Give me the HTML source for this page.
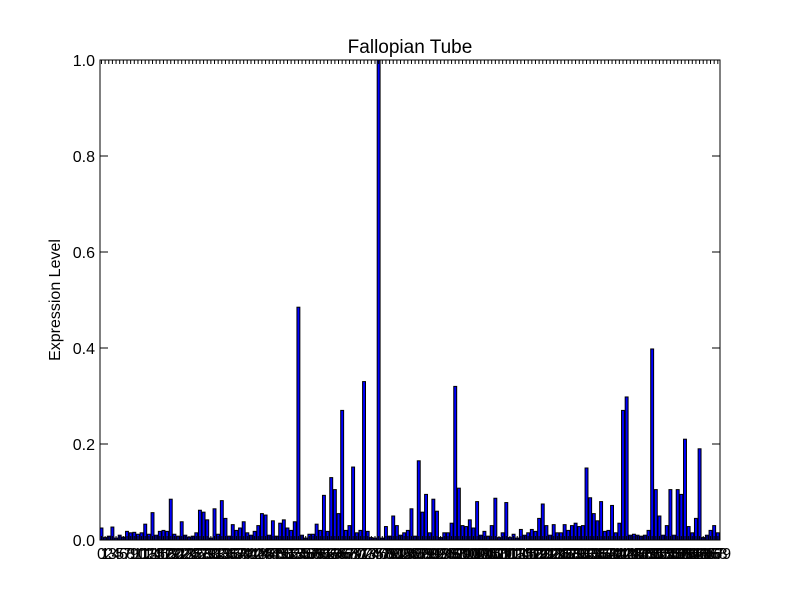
<!DOCTYPE html>
<html><head><meta charset="utf-8"><style>
body{margin:0;background:#fff;}
svg{display:block;font-family:"Liberation Sans",sans-serif;}
</style></head><body>
<svg id="chart" width="800" height="600">
<rect width="800" height="600" fill="#fff"/>
<text x="410" y="53" font-size="19" text-anchor="middle">Fallopian Tube</text>
<text transform="translate(60,300) rotate(-90)" font-size="16" text-anchor="middle">Expression Level</text>
<g id="bars"></g><g id="ticks"></g>
<rect x="100" y="60" width="620" height="480" fill="none" stroke="#000" stroke-width="1"/>
</svg>
<script>
const values = [
0.025,0.005,0.008,0.027,0.004,0.010,0.006,0.018,0.015,0.016,0.012,0.015,0.033,0.012,0.057,0.010,0.018,0.020,0.018,0.085,
0.012,0.008,0.038,0.010,0.006,0.008,0.015,0.062,0.058,0.042,0.004,0.065,0.012,0.082,0.045,0.008,0.032,0.020,0.025,0.038,
0.015,0.010,0.018,0.030,0.055,0.052,0.010,0.040,0.008,0.035,0.042,0.025,0.020,0.038,0.485,0.010,0.004,0.012,0.012,0.033,
0.020,0.093,0.018,0.130,0.105,0.055,0.270,0.020,0.030,0.152,0.015,0.020,0.330,0.018,0.005,0.004,1.000,0.004,0.028,0.008,
0.050,0.030,0.010,0.015,0.020,0.065,0.008,0.165,0.058,0.095,0.015,0.085,0.060,0.005,0.015,0.015,0.035,0.320,0.108,0.030,
0.028,0.042,0.025,0.080,0.010,0.018,0.008,0.030,0.087,0.005,0.015,0.078,0.005,0.012,0.004,0.022,0.010,0.015,0.022,0.018,
0.045,0.075,0.030,0.010,0.032,0.015,0.015,0.032,0.020,0.030,0.035,0.028,0.030,0.150,0.088,0.055,0.040,0.080,0.018,0.020,
0.072,0.015,0.035,0.270,0.298,0.010,0.012,0.010,0.008,0.010,0.020,0.398,0.105,0.050,0.010,0.030,0.105,0.010,0.105,0.095,
0.210,0.028,0.015,0.045,0.190,0.005,0.010,0.020,0.030,0.015];
const categories = values.map((v,i)=>String(i));
const yTicks = [0,0.2,0.4,0.6,0.8,1.0];
const yTickLabels = ["0.0","0.2","0.4","0.6","0.8","1.0"];
const X0=100,X1=720,Y0=540,Y1=60;
const pitch=(X1-X0)/categories.length;
const xs=i=>X0+i*pitch;
const ys=v=>Y0-(v-0)/(1-0)*(Y0-Y1);
const NS="http://www.w3.org/2000/svg";
const bars=document.getElementById('bars'),ticks=document.getElementById('ticks');
values.forEach((v,i)=>{
  const r=document.createElementNS(NS,'rect');
  r.setAttribute('x',xs(i));r.setAttribute('y',ys(v));
  r.setAttribute('width',pitch*0.8);r.setAttribute('height',Y0-ys(v));
  r.setAttribute('fill','#0000ff');r.setAttribute('stroke','#000');r.setAttribute('stroke-width','1');
  
  
  bars.appendChild(r);
  const cx=xs(i)+pitch*0.4;
  const t1=document.createElementNS(NS,'line');
  t1.setAttribute('x1',cx);t1.setAttribute('x2',cx);t1.setAttribute('y1',Y0);t1.setAttribute('y2',Y0-4);t1.setAttribute('stroke','#000');
  
  
  ticks.appendChild(t1);
  const t2=document.createElementNS(NS,'line');
  t2.setAttribute('x1',cx);t2.setAttribute('x2',cx);t2.setAttribute('y1',Y1);t2.setAttribute('y2',Y1+4);t2.setAttribute('stroke','#000');
  
  
  ticks.appendChild(t2);
  const tl=document.createElementNS(NS,'text');
  tl.setAttribute('x',cx);tl.setAttribute('y',Y0+19);tl.setAttribute('font-size','16');tl.setAttribute('text-anchor','middle');
  tl.textContent=categories[i];
  
  
  ticks.appendChild(tl);
});
yTicks.forEach((v,k)=>{
  const y=ys(v);
  [[X0,X0+8],[X1,X1-8]].forEach(([a,b])=>{
    const l=document.createElementNS(NS,'line');
    l.setAttribute('x1',a);l.setAttribute('x2',b);l.setAttribute('y1',y);l.setAttribute('y2',y);l.setAttribute('stroke','#000');
    
    
    ticks.appendChild(l);
  });
  const t=document.createElementNS(NS,'text');
  t.setAttribute('x',X0-5);t.setAttribute('y',y+6);t.setAttribute('font-size','16');t.setAttribute('text-anchor','end');
  t.textContent=yTickLabels[k];
  
  
  ticks.appendChild(t);
});
</script>
</body></html>
